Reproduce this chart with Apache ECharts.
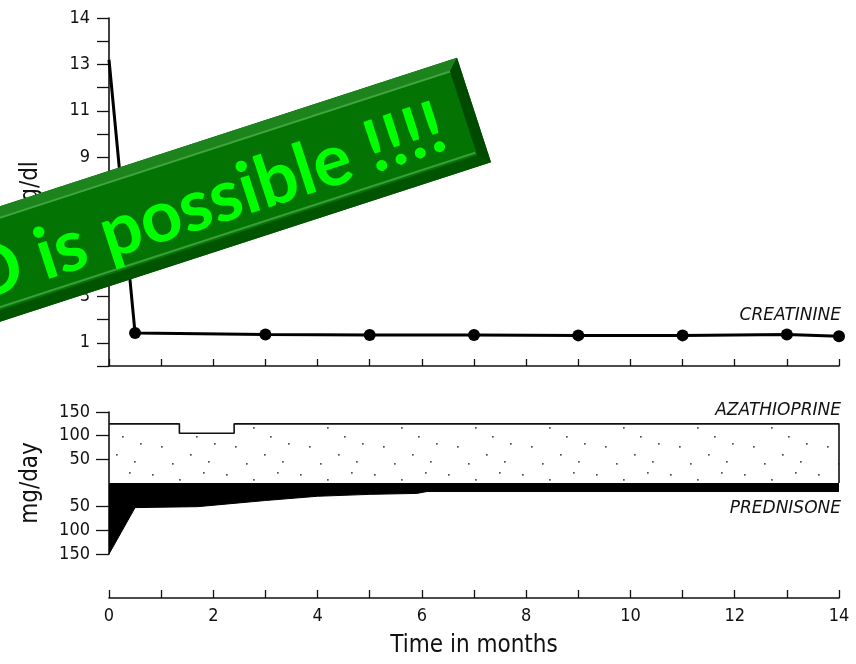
<!DOCTYPE html>
<html>
<head>
<meta charset="utf-8">
<script src="https://cdn.jsdelivr.net/npm/echarts@6/dist/echarts.min.js"></script>
<style>
html,body{margin:0;padding:0;background:#fff;}
#chart{width:856px;height:664px;}
</style>
</head>
<body>
<div id="chart"></div>
<script>
// ---- data ----
const creatMonths = [0, 0.5, 3, 5, 7, 9, 11, 13, 14];
const creatinine  = [13.2, 1.42, 1.36, 1.34, 1.34, 1.32, 1.32, 1.36, 1.28];
const creatTickLabels = {1:'1', 3:'3', 5:'5', 7:'7', 9:'9', 11:'11', 13:'13', 15:'14'};

const azaMonths = [0, 1.35, 1.35, 2.4, 2.4, 14, 14];
const azaDose   = [125, 125, 105, 105, 125, 125, 0];

const predMonths = [0, 0.5, 1.7, 3, 4, 5, 5.9, 6.1, 14];
const predDose   = [150, 52, 50, 37, 28, 24, 22, 18, 18];

const doseTickLabels = {150:'150', 100:'100', 50:'50', '-50':'50', '-100':'100', '-150':'150'};
const monthTickLabels = ['0','2','4','6','8','10','12','14'];

const bannerText = 'HD is possible !!!!';

// ---- styles ----
const FONT = "'DejaVu Sans Condensed','Liberation Sans Narrow','DejaVu Sans',sans-serif";
function makeStipple(){
  const c = document.createElement('canvas');
  c.width = 74; c.height = 52;
  const g = c.getContext('2d');
  g.fillStyle = '#555';
  const dots = [[4,6],[31,11],[55,4],[66,27],[13,30],[42,38],[24,47],[60,45],[48,20]];
  dots.forEach(d => g.fillRect(d[0], d[1], 1.7, 1.7));
  return c;
}

const chart = echarts.init(document.getElementById('chart'), null, {renderer:'canvas'});

const L = 109, W = 730;
const BZ = {zlevel: 2, z: 100};
const option = {
  animation: false,
  backgroundColor: '#fff',
  grid: [
    {left: L, width: W, top: 18, height: 348},
    {left: L, width: W, top: 412, height: 142},
    {left: L, width: W, top: 560, height: 38}
  ],
  xAxis: [
    {gridIndex:0, type:'value', min:0, max:14, interval:1, position:'bottom',
     axisLine:{onZero:false, lineStyle:{color:'#111', width:1.6}},
     axisTick:{inside:true, length:7, lineStyle:{color:'#111', width:1.3}},
     axisLabel:{show:false}, splitLine:{show:false}},
    {gridIndex:1, type:'value', min:0, max:14, show:false},
    {gridIndex:2, type:'value', min:0, max:14, interval:1, position:'bottom',
     axisLine:{onZero:false, lineStyle:{color:'#111', width:1.6}},
     axisTick:{inside:true, length:8, lineStyle:{color:'#111', width:1.3}},
     axisLabel:{margin:9, color:'#111', fontSize:18, fontFamily:FONT,
       formatter: v => (v % 2 === 0 ? monthTickLabels[v/2] : '')},
     splitLine:{show:false},
     name:'Time in months', nameLocation:'middle', nameGap:36,
     nameTextStyle:{color:'#111', fontSize:24, fontFamily:FONT}}
  ],
  yAxis: [
    {gridIndex:0, type:'value', min:0, max:15, interval:1,
     axisLine:{show:true, lineStyle:{color:'#111', width:1.6}},
     axisTick:{show:true, length:12, lineStyle:{color:'#111', width:1.3}},
     axisLabel:{margin:19, color:'#111', fontSize:18, fontFamily:FONT,
       formatter: v => creatTickLabels[v] || ''},
     splitLine:{show:false},
     name:'mg/dl', nameLocation:'middle', nameGap:66,
     nameTextStyle:{color:'#111', fontSize:24, fontFamily:FONT}},
    {gridIndex:1, type:'value', min:-150, max:150, interval:50,
     axisLine:{show:true, onZero:false, lineStyle:{color:'#111', width:1.6}},
     axisTick:{show:true, length:13, lineStyle:{color:'#111', width:1.3},
       customValues:[-150,-100,-50,50,100,150]},
     axisLabel:{margin:19, color:'#111', fontSize:18, fontFamily:FONT,
       formatter: v => doseTickLabels[v] || ''},
     splitLine:{show:false},
     name:'mg/day', nameLocation:'middle', nameGap:66,
     nameTextStyle:{color:'#111', fontSize:24, fontFamily:FONT}},
    {gridIndex:2, type:'value', min:0, max:1, show:false}
  ],
  series: [
    {type:'line', xAxisIndex:0, yAxisIndex:0,
     data: creatMonths.map((m,i) => i === 0 ? {value:[m, creatinine[i]], symbol:'none'} : [m, creatinine[i]]),
     symbol:'circle', symbolSize:12, showAllSymbol:true,
     lineStyle:{color:'#000', width:3}, itemStyle:{color:'#000'}},
    {type:'line', xAxisIndex:1, yAxisIndex:1,
     data: azaMonths.map((m,i) => [m, azaDose[i]]),
     symbol:'none', lineStyle:{color:'#111', width:1.6},
     areaStyle:{color:{image: makeStipple(), repeat:'repeat'}, opacity:1, origin:0}},
    {type:'line', xAxisIndex:1, yAxisIndex:1,
     data: predMonths.map((m,i) => [m, -predDose[i]]),
     symbol:'none', lineStyle:{color:'#000', width:1},
     areaStyle:{color:'#000', opacity:1, origin:0}}
  ],
  graphic: [
    {type:'text', right: 15, top: 307, style:{text:'CREATININE', font:"italic 17px 'DejaVu Sans'", fill:'#111'}},
    {type:'text', right: 15, top: 402, style:{text:'AZATHIOPRINE', font:"italic 17px 'DejaVu Sans'", fill:'#111'}},
    {type:'text', right: 15, top: 500, style:{text:'PREDNISONE', font:"italic 17px 'DejaVu Sans'", fill:'#111'}},
    Object.assign({type:'group', x: 474, y: 110, rotation: 18 * Math.PI / 180,
     children: [
       Object.assign({type:'rect', shape:{x:-800, y:-55, width:800, height:110}, style:{fill:'#005c00'}}, BZ),
       Object.assign({type:'polygon', shape:{points:[[-800,-55],[0,-55],[-11,-44],[-800,-44]]}, style:{fill:'#1d831d'}}, BZ),
       Object.assign({type:'polygon', shape:{points:[[0,-55],[0,55],[-11,44],[-11,-44]]}, style:{fill:'#004a00'}}, BZ),
       Object.assign({type:'polygon', shape:{points:[[-800,44],[-11,44],[0,55],[-800,55]]}, style:{fill:'#005400'}}, BZ),
       Object.assign({type:'rect', shape:{x:-800, y:-44, width:789, height:88}, style:{fill:'#037403'}}, BZ),
       Object.assign({type:'line', shape:{x1:-800, y1:-44, x2:-11, y2:-44}, style:{stroke:'#3fa53f', lineWidth:2}}, BZ),
       Object.assign({type:'line', shape:{x1:-800, y1:41, x2:-12, y2:41}, style:{stroke:'#3a9c3a', lineWidth:2}}, BZ),
       {type:'text', x:-34, y:6, zlevel:2, z:101,
        style:{text:bannerText, fontFamily:'Lato', fontWeight:'bold', fontSize:72, fill:'#00ff00', align:'right', verticalAlign:'middle'}}
     ]}, BZ)
  ]
};
chart.setOption(option);
</script>
</body>
</html>
